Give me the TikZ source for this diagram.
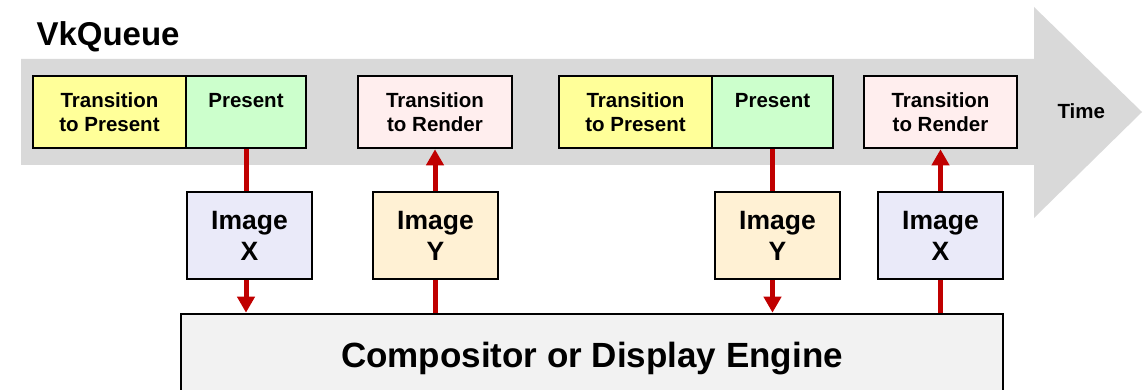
\documentclass[tikz,border=0pt]{standalone}
\usepackage{fontspec}
\setmainfont{Liberation Sans}
\usetikzlibrary{arrows.meta}
\definecolor{bandgray}{HTML}{D9D9D9}
\definecolor{toPresent}{HTML}{FFFF99}
\definecolor{presentgreen}{HTML}{CCFFCC}
\definecolor{toRender}{HTML}{FFEEEE}
\definecolor{imgx}{HTML}{EAEAF9}
\definecolor{imgy}{HTML}{FFF1D4}
\definecolor{engine}{HTML}{F2F2F2}
\definecolor{linkred}{HTML}{C00000}
\begin{document}
\begin{tikzpicture}[x=1pt,y=-1pt,
  box/.style={draw=black, line width=2.6pt, inner sep=0pt, align=center},
  qbox/.style={box, minimum height=72pt, font=\bfseries\fontsize{20.5}{24}\selectfont},
  ibox/.style={box, minimum width=125pt, minimum height=87pt, font=\bfseries\fontsize{26.5}{31}\selectfont},
  link/.style={draw=linkred, line width=5pt},
  flow/.style={link, -{Triangle[width=17pt,length=16pt]}},
]
\clip (0,0) rectangle (1148,390);
% time arrow behind the queue
\fill[bandgray] (21,59) -- (1034,59) -- (1034,7) -- (1142,112) -- (1034,218) -- (1034,165) -- (21,165) -- cycle;
\node[anchor=base west, font=\bfseries\fontsize{33}{40}\selectfont] (title) at (33,46) {VkQueue};
\node[anchor=base west, font=\bfseries\fontsize{20.5}{24}\selectfont] (time) at (1054,119) {Time};

% queue operations
\node[qbox, fill=toPresent, minimum width=153pt] (tp1) at (109.5,112) {Transition\\to Present};
\node[qbox, fill=presentgreen, minimum width=120pt] (pr1) at (246,112) {Present\\~};
\node[qbox, fill=toRender, minimum width=154pt] (tr1) at (435,112) {Transition\\to Render};
\node[qbox, fill=toPresent, minimum width=153pt] (tp2) at (635.5,112) {Transition\\to Present};
\node[qbox, fill=presentgreen, minimum width=121pt] (pr2) at (772.5,112) {Present\\~};
\node[qbox, fill=toRender, minimum width=153pt] (tr2) at (940.5,112) {Transition\\to Render};

% swapchain images
\node[ibox, fill=imgx] (ix1) at (249.5,235.5) {Image\\X};
\node[ibox, fill=imgy] (iy1) at (435.5,235.5) {Image\\Y};
\node[ibox, fill=imgy] (iy2) at (777.5,235.5) {Image\\Y};
\node[ibox, fill=imgx] (ix2) at (940.5,235.5) {Image\\X};

% presentation engine, running off the lower edge
\node[box, fill=engine, minimum width=822pt, minimum height=90pt,
      font=\bfseries\fontsize{35}{42}\selectfont] (comp) at (592,359) {Compositor or Display Engine};

% ownership transfers
\draw[link] (pr1.south) -- (pr1.south |- ix1.north);
\draw[flow] (ix1.south -| pr1.south) -- (comp.north -| pr1.south);
\draw[flow] (iy1.north -| tr1.south) -- (tr1.south);
\draw[link] (comp.north -| tr1.south) -- (iy1.south -| tr1.south);
\draw[link] (pr2.south) -- (pr2.south |- iy2.north);
\draw[flow] (iy2.south -| pr2.south) -- (comp.north -| pr2.south);
\draw[flow] (ix2.north -| tr2.south) -- (tr2.south);
\draw[link] (comp.north -| tr2.south) -- (ix2.south -| tr2.south);
\end{tikzpicture}
\end{document}
